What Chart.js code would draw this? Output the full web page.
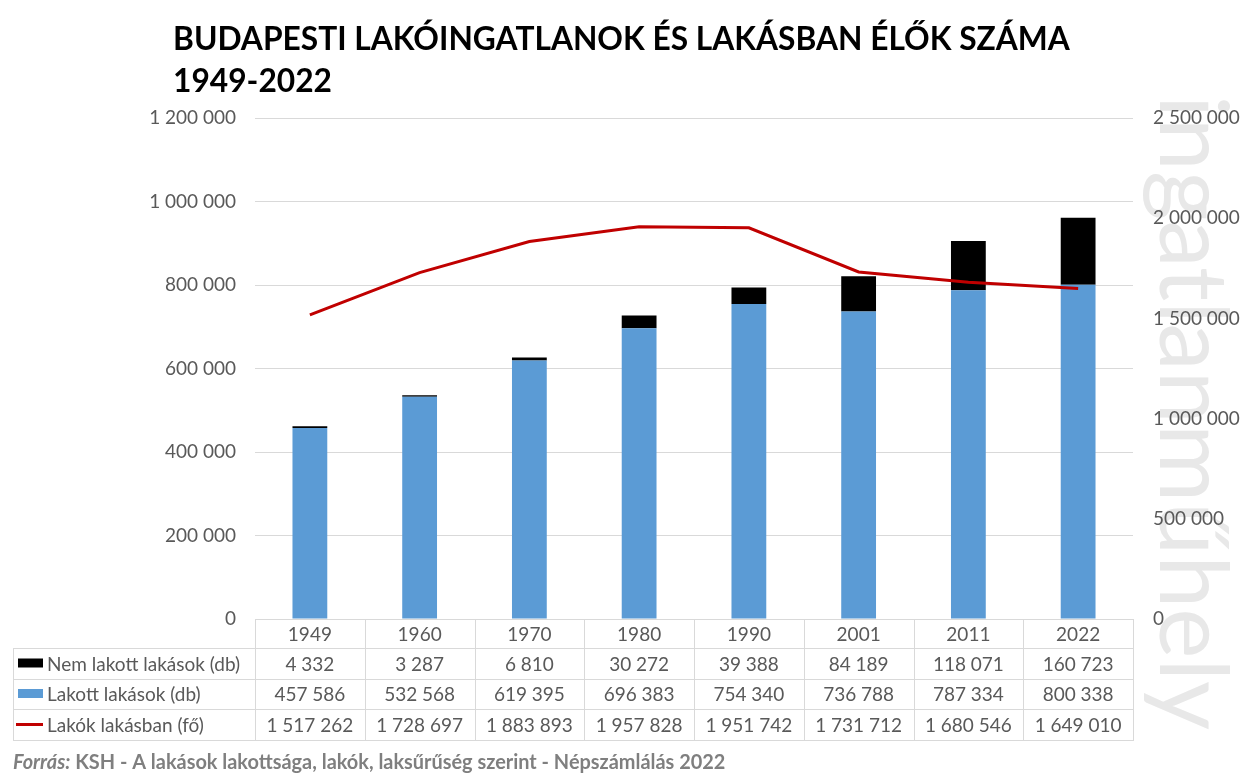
<!DOCTYPE html>
<html>
<head>
<meta charset="utf-8">
<script src="https://cdn.jsdelivr.net/npm/chart.js@4"></script>
<style>
html,body{margin:0;padding:0;background:#fff;}
#wrap{width:1244px;height:777px;position:relative;}
</style>
</head>
<body>
<div id="wrap"><canvas id="c" width="1244" height="777"></canvas></div>
<script>
const titleLines = ['BUDAPESTI LAKÓINGATLANOK ÉS LAKÁSBAN ÉLŐK SZÁMA', '1949-2022'];
const years = ['1949','1960','1970','1980','1990','2001','2011','2022'];
const nemLakott = [4332, 3287, 6810, 30272, 39388, 84189, 118071, 160723];
const lakott = [457586, 532568, 619395, 696383, 754340, 736788, 787334, 800338];
const lakok = [1517262, 1728697, 1883893, 1957828, 1951742, 1731712, 1680546, 1649010];
const seriesNames = ['Nem lakott lakások (db)', 'Lakott lakások (db)', 'Lakók lakásban (fő)'];
const leftTicks = [0, 200000, 400000, 600000, 800000, 1000000, 1200000];
const rightTicks = [0, 500000, 1000000, 1500000, 2000000, 2500000];
const sourceBold = 'Forrás:';
const sourceRest = ' KSH - A lakások lakottsága, lakók, laksűrűség szerint - Népszámlálás 2022';
const watermark = 'ingatlanműhely';

const BLUE = '#5b9bd5', BLACK = '#000000', RED = '#c00000';
const TXT = '#595959', GRID = '#d9d9d9';
const FONT = 'Lato, "Open Sans", sans-serif';

function fmt(v){ return String(v).replace(/\B(?=(\d{3})+(?!\d))/g, ' '); }

function fitFont(ctx, text, style, maxSize, targetW){
  let s = maxSize;
  ctx.font = style + ' ' + s + 'px ' + FONT;
  const w = ctx.measureText(text).width;
  if (w > targetW) s = s * targetW / w;
  return s;
}

const decor = {
  id: 'decor',
  beforeDraw(chart){
    const ctx = chart.ctx;
    ctx.save();
    // watermark
    ctx.font = '400 100px ' + FONT;
    const size = 100 * 635 / ctx.measureText(watermark).width;
    ctx.font = '400 ' + size + 'px ' + FONT;
    ctx.fillStyle = '#e8e8e8';
    ctx.translate(1160, 95);
    ctx.rotate(Math.PI/2);
    ctx.textBaseline = 'alphabetic';
    ctx.textAlign = 'left';
    ctx.fillText(watermark, 0, 0);
    ctx.restore();
  },
  afterDraw(chart){
    const ctx = chart.ctx;
    const xs = chart.scales.x;
    const ca = chart.chartArea;
    const n = years.length;
    const colW = (ca.right - ca.left) / n;
    const rows = [619, 648, 679, 709, 740];
    const legL = 13;
    ctx.save();
    // title
    ctx.fillStyle = '#000';
    ctx.textBaseline = 'alphabetic';
    ctx.textAlign = 'left';
    const ts = fitFont(ctx, titleLines[0], 'bold', 36, 897);
    ctx.font = 'bold ' + ts + 'px ' + FONT;
    ctx.fillText(titleLines[0], 173, 50);
    ctx.fillText(titleLines[1], 173, 92);

    // table grid
    ctx.strokeStyle = GRID;
    ctx.lineWidth = 1;
    ctx.beginPath();
    ctx.moveTo(ca.left, rows[0]+0.5); ctx.lineTo(ca.right, rows[0]+0.5);
    for (let r = 1; r < rows.length; r++){
      ctx.moveTo(legL, rows[r]+0.5); ctx.lineTo(ca.right, rows[r]+0.5);
    }
    for (let i = 0; i <= n; i++){
      const x = Math.round(ca.left + i*colW) + 0.5;
      ctx.moveTo(x, rows[0]); ctx.lineTo(x, rows[4]+1);
    }
    ctx.moveTo(legL+0.5, rows[1]); ctx.lineTo(legL+0.5, rows[4]+1);
    ctx.stroke();

    // table text
    ctx.fillStyle = TXT;
    ctx.font = '19px ' + FONT;
    ctx.textAlign = 'center';
    ctx.textBaseline = 'middle';
    const rowData = [years, nemLakott.map(fmt), lakott.map(fmt), lakok.map(fmt)];
    for (let r = 0; r < 4; r++){
      const cy = (rows[r] + rows[r+1]) / 2 + 1;
      for (let i = 0; i < n; i++){
        ctx.fillText(rowData[r][i], xs.getPixelForValue(i), cy);
      }
    }
    // legend column
    ctx.textAlign = 'left';
    for (let k = 0; k < 3; k++){
      const cy = (rows[k+1] + rows[k+2]) / 2;
      if (k === 0){ ctx.fillStyle = BLACK; ctx.fillRect(18, cy-5, 25, 9); }
      if (k === 1){ ctx.fillStyle = BLUE; ctx.fillRect(18, cy-5, 25, 9); }
      if (k === 2){ ctx.fillStyle = RED; ctx.fillRect(16, cy-1.5, 27, 3); }
      ctx.fillStyle = TXT;
      ctx.fillText(seriesNames[k], 47, cy+1);
    }

    // source
    ctx.fillStyle = '#7f7f7f';
    ctx.textBaseline = 'alphabetic';
    let fs = 18;
    ctx.font = 'italic bold ' + fs + 'px ' + FONT;
    let w1 = ctx.measureText(sourceBold).width;
    ctx.font = 'bold ' + fs + 'px ' + FONT;
    let w2 = ctx.measureText(sourceRest).width;
    fs = fs * 713 / (w1 + w2);
    ctx.font = 'italic bold ' + fs + 'px ' + FONT;
    ctx.fillText(sourceBold, 13, 769);
    w1 = ctx.measureText(sourceBold).width;
    ctx.font = 'bold ' + fs + 'px ' + FONT;
    ctx.fillText(sourceRest, 13 + w1, 769);
    ctx.restore();
  }
};

new Chart(document.getElementById('c'), {
  data: {
    labels: years,
    datasets: [
      { type: 'line', label: seriesNames[2], data: lakok, yAxisID: 'y1',
        borderColor: RED, backgroundColor: RED, borderWidth: 3, pointRadius: 0, tension: 0 },
      { type: 'bar', label: seriesNames[1], data: lakott, yAxisID: 'y',
        backgroundColor: BLUE, borderWidth: 0, categoryPercentage: 1, barPercentage: 0.317 },
      { type: 'bar', label: seriesNames[0], data: nemLakott, yAxisID: 'y',
        backgroundColor: BLACK, borderWidth: 0, categoryPercentage: 1, barPercentage: 0.317 }
    ]
  },
  options: {
    responsive: false,
    animation: false,
    events: [],
    layout: { padding: { top: 118, bottom: 158, left: 0, right: 0 } },
    plugins: { legend: { display: false }, title: { display: false }, tooltip: { enabled: false } },
    scales: {
      x: { stacked: true, display: false },
      y: {
        stacked: true, position: 'left', min: 0, max: 1200000,
        afterFit(s){ s.width = 255; },
        afterBuildTicks(s){ s.ticks = leftTicks.map(v => ({ value: v })); },
        grid: { color: GRID, lineWidth: 1, drawTicks: false },
        border: { display: false },
        ticks: { color: TXT, font: { family: FONT, size: 19 }, padding: 19, callback: v => fmt(v) }
      },
      y1: {
        position: 'right', min: 0, max: 2500000,
        afterFit(s){ s.width = 111; },
        afterBuildTicks(s){ s.ticks = rightTicks.map(v => ({ value: v })); },
        grid: { drawOnChartArea: false, drawTicks: false },
        border: { display: false },
        ticks: { color: TXT, font: { family: FONT, size: 19 }, padding: 20, callback: v => fmt(v) }
      }
    }
  },
  plugins: [decor]
});
</script>
</body>
</html>
